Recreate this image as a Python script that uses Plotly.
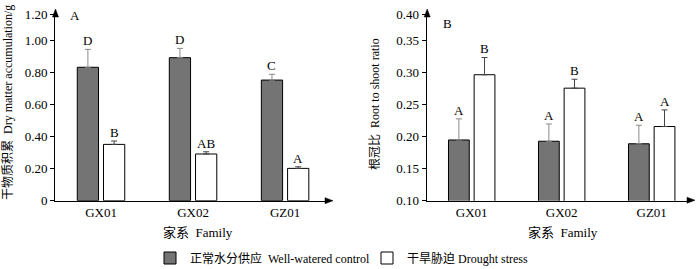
import plotly.graph_objects as go

families = ["GX01", "GX02", "GZ01"]

# Panel A: dry matter accumulation (g)
dm_control = [0.834, 0.894, 0.754]
dm_control_err = [0.112, 0.058, 0.036]
dm_drought = [0.352, 0.292, 0.202]
dm_drought_err = [0.021, 0.014, 0.010]
dm_control_sig = ["D", "D", "C"]
dm_drought_sig = ["B", "AB", "A"]

# Panel B: root to shoot ratio
rs_control = [0.195, 0.193, 0.189]
rs_control_err = [0.033, 0.027, 0.029]
rs_drought = [0.297, 0.276, 0.216]
rs_drought_err = [0.027, 0.014, 0.026]
rs_control_sig = ["A", "A", "A"]
rs_drought_sig = ["B", "B", "A"]

dm_ticks = [0, 0.2, 0.4, 0.6, 0.8, 1.0]
dm_ticklabels = ["0", "0.20", "0.40", "0.60", "0.80", "1.00"]
rs_ticks = [0.10, 0.15, 0.20, 0.25, 0.30, 0.35]
rs_ticklabels = ["0.10", "0.15", "0.20", "0.25", "0.30", "0.35"]

name_ctrl = "正常水分供应  Well-watered control"
name_drought = "干旱胁迫 Drought stress"

FONT = "Liberation Serif, Times New Roman, Noto Sans CJK SC, serif"
GRAY = "#747474"
W, H = 700, 269
BARGAP = 0.43

fig = go.Figure()

def add_pair(xa, ya, ctrl, ctrl_err, dr, dr_err, show):
    fig.add_trace(go.Bar(
        x=families, y=ctrl, name=name_ctrl, xaxis=xa, yaxis=ya,
        marker=dict(color=GRAY, line=dict(color="black", width=1)),
        error_y=dict(type="data", array=ctrl_err, arrayminus=[0]*3, symmetric=False,
                     color="#8a8a8a", thickness=1, width=3),
        showlegend=show, legendgroup="c"))
    fig.add_trace(go.Bar(
        x=families, y=dr, name=name_drought, xaxis=xa, yaxis=ya,
        marker=dict(color="white", line=dict(color="black", width=1)),
        error_y=dict(type="data", array=dr_err, arrayminus=[0]*3, symmetric=False,
                     color="#444444", thickness=1, width=3),
        showlegend=show, legendgroup="d"))

add_pair("x", "y", dm_control, dm_control_err, dm_drought, dm_drought_err, True)
add_pair("x2", "y2", rs_control, rs_control_err, rs_drought, rs_drought_err, False)

annotations = []
off = (1 - BARGAP) / 4
def sig_labels(xr, yr, vals, errs, labs, sign):
    for i, (v, e, t) in enumerate(zip(vals, errs, labs)):
        annotations.append(dict(x=i + sign * off, y=v + e, xref=xr, yref=yr, text=t,
                                showarrow=False, xanchor="center", yanchor="bottom", yshift=-1,
                                font=dict(family=FONT, size=13, color="black")))

sig_labels("x", "y", dm_control, dm_control_err, dm_control_sig, -1)
sig_labels("x", "y", dm_drought, dm_drought_err, dm_drought_sig, 1)
sig_labels("x2", "y2", rs_control, rs_control_err, rs_control_sig, -1)
sig_labels("x2", "y2", rs_drought, rs_drought_err, rs_drought_sig, 1)

def px(x):
    return x / W
def py(y):
    return 1 - y / H

def txt(x, y, s, size=13, angle=0):
    annotations.append(dict(x=px(x), y=py(y), xref="paper", yref="paper", text=s, showarrow=False,
                            xanchor="center", yanchor="middle", textangle=angle,
                            font=dict(family=FONT, size=size, color="black")))

# panel letters
txt(75, 16, "A")
txt(447, 24, "B")
# axis titles
txt(198, 232, "家系  Family")
txt(563, 232, "家系  Family")
txt(8, 103, "干物质积累  Dry matter accumulation/g", size=12, angle=-90)
txt(375, 104, "根冠比  Root to shoot ratio", size=12, angle=-90)

# axis arrow heads (triangles in paper coords)
def tri_up(x, ytip):
    return dict(type="path", xref="paper", yref="paper",
                path=f"M {px(x)} {py(ytip)} L {px(x-3)} {py(ytip+8)} L {px(x+3)} {py(ytip+8)} Z",
                fillcolor="black", line=dict(color="black", width=0.5))
def tri_right(xtip, y):
    return dict(type="path", xref="paper", yref="paper",
                path=f"M {px(xtip)} {py(y)} L {px(xtip-8)} {py(y-3)} L {px(xtip-8)} {py(y+3)} Z",
                fillcolor="black", line=dict(color="black", width=0.5))
shapes = [tri_up(55.5, 9), tri_up(427.2, 9), tri_right(333, 200.7), tri_right(695, 200.2)]

ydom = [py(200.7), py(14)]
axis_common = dict(showline=True, linecolor="black", linewidth=1, showgrid=False, zeroline=False,
                   automargin=False, tickfont=dict(family=FONT, size=13, color="black"))

fig.update_layout(
    width=W, height=H, margin=dict(l=0, r=0, t=0, b=0, autoexpand=False),
    paper_bgcolor="white", plot_bgcolor="white",
    barmode="group", bargap=BARGAP, bargroupgap=0.19,
    font=dict(family=FONT, size=13, color="black"),
    xaxis=dict(domain=[px(55), px(326.5)], range=[-0.5, 2.45], ticks="", **axis_common),
    yaxis=dict(domain=ydom, range=[0, 1.167], tickvals=dm_ticks + [1.167],
               ticktext=dm_ticklabels + ["1.20"], ticks="outside", ticklen=4, tickcolor="black",
               anchor="x", **axis_common),
    xaxis2=dict(domain=[px(426.7), px(687.7)], range=[-0.5, 2.4], ticks="", anchor="y2", **axis_common),
    yaxis2=dict(domain=ydom, range=[0.10, 0.392], tickvals=rs_ticks + [0.392],
                ticktext=rs_ticklabels + ["0.40"], ticks="outside", ticklen=4, tickcolor="black",
                anchor="x2", **axis_common),
    legend=dict(orientation="h", x=px(150), y=py(258), xanchor="left", yanchor="middle",
                font=dict(family=FONT, size=12, color="black"), itemwidth=30,
                entrywidth=172, entrywidthmode="pixels",
                bgcolor="rgba(0,0,0,0)"),
    annotations=annotations,
    shapes=shapes,
)

fig.write_html("out.html", config={"displayModeBar": False},
               post_script="document.body.style.margin='0px';document.body.style.overflow='hidden';")
